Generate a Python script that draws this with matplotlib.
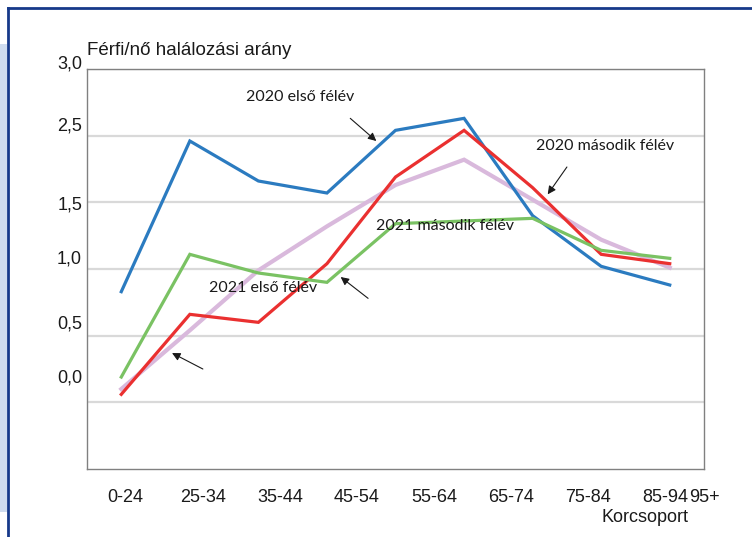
import numpy as np
import matplotlib
matplotlib.use("Agg")
import matplotlib.pyplot as plt
import matplotlib.transforms as mtransforms
from matplotlib.patches import Rectangle
from matplotlib.lines import Line2D

# age groups: 9 data points, but the axis shows 8 labels + "95+" at the edge
points = ["0-24", "25-34", "35-44", "45-54", "55-64", "65-74", "75-84", "85-94", "95+"]
tick_labels = ["0-24", "25-34", "35-44", "45-54", "55-64", "65-74", "75-84", "85-94", "95+"]

blue_2020_h1 = [0.83, 1.96, 1.66, 1.57, 2.04, 2.13, 1.40, 1.02, 0.88]
red_2020_h2 = [0.06, 0.66, 0.60, 1.04, 1.69, 2.04, 1.61, 1.11, 1.04]
green_2021 = [0.19, 1.11, 0.97, 0.90, 1.34, 1.36, 1.38, 1.14, 1.08]
lilac_2021 = [0.10, 0.54, 0.99, 1.32, 1.63, 1.82, 1.52, 1.22, 1.01]

# gridline values and the (misplaced) labels printed next to them
ygrid = [0.0, 0.5, 1.0, 1.5, 2.0, 2.5]
ylabels = ["0,0", "0,5", "1,0", "1,5", "2,5", "3,0"]
ylabel_shift = [26, 14, 12, -1, 12, 7]   # pixels upward

plt.rcParams['font.family'] = ['Liberation Sans', 'DejaVu Sans']

fig = plt.figure(figsize=(7.52, 5.37), dpi=100)
ax = fig.add_axes([0.1157, 0.1266, 0.8205, 0.7449])

x = np.arange(len(points))
ax.plot(x, lilac_2021, color='#d9b9dc', lw=3.0, solid_joinstyle='miter', zorder=3)
ax.plot(x, blue_2020_h1, color='#2b7bc0', lw=2.3, solid_joinstyle='miter', zorder=4)
ax.plot(x, red_2020_h2, color='#ea3030', lw=2.3, solid_joinstyle='miter', zorder=5)
ax.plot(x, green_2021, color='#7ac263', lw=2.3, solid_joinstyle='miter', zorder=6)

ax.set_xlim(-0.5, len(points) - 0.5)
ax.set_ylim(-0.5, 2.5)

# y axis
ax.set_yticks(ygrid)
ax.set_yticklabels(ylabels, fontsize=13)
ax.tick_params(axis='y', length=0, pad=3.6, labelcolor='#1a1a1a')
for lab, dy in zip(ax.get_yticklabels(), ylabel_shift):
    lab.set_transform(lab.get_transform() +
                      mtransforms.ScaledTranslation(0, dy / 100, fig.dpi_scale_trans))
ax.grid(axis='y', color='#d9d9d9', lw=1.6, zorder=0)

# x axis: 8 centred category labels plus "95+" at the right edge
lo, hi = ax.get_xlim()
xt = list(np.linspace(lo, hi, 17)[1::2]) + [hi]
ax.set_xticks(xt)
ax.set_xticklabels(tick_labels, fontsize=13)
ax.tick_params(axis='x', length=0, pad=14.5, labelcolor='#1a1a1a')

for s in ax.spines.values():
    s.set_color('#808080')
    s.set_linewidth(1.0)

ax.text(0, 1.026, "Férfi/nő halálozási arány", transform=ax.transAxes,
        fontsize=13.5, color='#1a1a1a', ha='left', va='bottom')
ax.text(0.905, -0.12, "Korcsoport", transform=ax.transAxes,
        fontsize=13, color='#1a1a1a', ha='center', va='center')

# annotations
afont = dict(family=['Lato', 'DejaVu Sans'], fontsize=11.5, color='#1a1a1a',
             ha='center', va='center', zorder=10)
ax.text(2.61, 2.29, "2020 első félév", **afont)
ax.text(7.06, 1.92, "2020 második félév", **afont)
ax.text(4.72, 1.32, "2021 második félév", **afont)
ax.text(2.07, 0.86, "2021 első félév", **afont)

arrows = [((3.34, 2.13), (3.72, 1.96)),
          ((6.50, 1.765), (6.22, 1.56)),
          ((3.60, 0.78), (3.20, 0.94)),
          ((1.19, 0.25), (0.74, 0.37))]
for start, end in arrows:
    ax.annotate("", xy=end, xytext=start,
                arrowprops=dict(arrowstyle='-|>', color='#1a1a1a', lw=0.8,
                                mutation_scale=12, shrinkA=0, shrinkB=0),
                zorder=10)

# page decoration around the chart
fig.patches.append(Rectangle((0, 0.0466), 7 / 752, 0.8714, transform=fig.transFigure,
                             facecolor='#cfdcef', edgecolor='none', zorder=0))
fig.lines.append(Line2D([8 / 752, 1], [0.985, 0.985], transform=fig.transFigure,
                        color='#16398a', lw=2))
fig.lines.append(Line2D([8 / 752, 8 / 752], [0, 0.985], transform=fig.transFigure,
                        color='#16398a', lw=2))

fig.savefig("out.png", dpi=100)
